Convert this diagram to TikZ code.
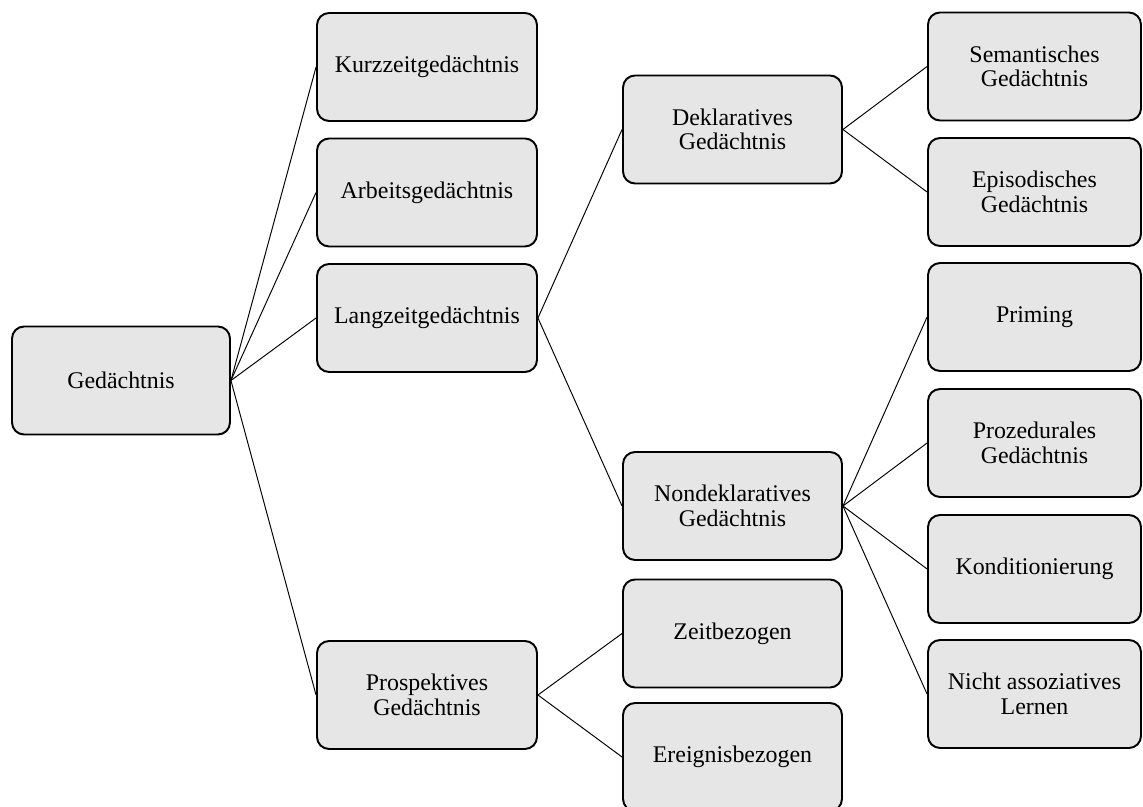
\documentclass[tikz,border=0pt]{standalone}
\usepackage{fontspec}
\setmainfont{Liberation Serif}
\definecolor{boxgray}{RGB}{230,230,230}
\tikzset{
  box/.style={draw=black, line width=1.1pt, rounded corners=0.24cm, fill=boxgray,
    align=center, minimum height=2.16cm, inner sep=2pt,
    font=\fontsize{13.6}{14}\selectfont},
  colA/.style={box, minimum width=4.36cm},
  colB/.style={box, minimum width=4.40cm},
  colC/.style={box, minimum width=4.38cm},
  colD/.style={box, minimum width=4.26cm},
  link/.style={draw=black, line width=0.55pt}
}
\begin{document}
\begin{tikzpicture}[x=0.02cm, y=-0.02cm]
\clip (0,0) rectangle (1143,807);
\fill[white] (0,0) rectangle (1143,807);
% column 1
\node[colA] (g) at (121,380.5) {Gedächtnis};
% column 2
\node[colB] (k) at (427,67) {Kurzzeitgedächtnis};
\node[colB] (a) at (427,192.5) {Arbeitsgedächtnis};
\node[colB] (l) at (427,318) {Langzeitgedächtnis};
\node[colB] (p) at (427,695) {Prospektives\\Gedächtnis};
% column 3
\node[colC] (d) at (732.5,129.5) {Deklaratives\\Gedächtnis};
\node[colC] (n) at (732.5,506) {Nondeklaratives\\Gedächtnis};
\node[colC] (z) at (732.5,633.5) {Zeitbezogen};
\node[colC] (e) at (732.5,757) {Ereignisbezogen};
% column 4
\node[colD] (s) at (1034.5,66.5) {Semantisches\\Gedächtnis};
\node[colD] (ep) at (1034.5,192) {Episodisches\\Gedächtnis};
\node[colD] (pr) at (1034.5,317) {Priming};
\node[colD] (pz) at (1034.5,443) {Prozedurales\\Gedächtnis};
\node[colD] (ko) at (1034.5,569) {Konditionierung};
\node[colD] (na) at (1034.5,694) {Nicht assoziatives\\Lernen};
% connectors
\draw[link] (g.east) -- (k.west);
\draw[link] (g.east) -- (a.west);
\draw[link] (g.east) -- (l.west);
\draw[link] (g.east) -- (p.west);
\draw[link] (l.east) -- (d.west);
\draw[link] (l.east) -- (n.west);
\draw[link] (p.east) -- (z.west);
\draw[link] (p.east) -- (e.west);
\draw[link] (d.east) -- (s.west);
\draw[link] (d.east) -- (ep.west);
\draw[link] (n.east) -- (pr.west);
\draw[link] (n.east) -- (pz.west);
\draw[link] (n.east) -- (ko.west);
\draw[link] (n.east) -- (na.west);
\end{tikzpicture}
\end{document}
